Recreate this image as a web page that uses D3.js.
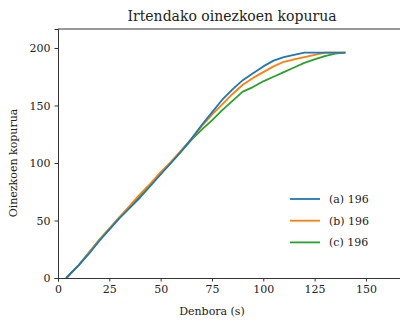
<!DOCTYPE html>
<html>
<head>
<meta charset="utf-8">
<script src="https://cdn.jsdelivr.net/npm/d3@7"></script>
<style>
  body { margin: 0; background: #fff; }
  svg text { font-family: "DejaVu Serif", "Liberation Serif", serif; fill: #222; }
</style>
</head>
<body>
<svg id="chart" width="400" height="321"></svg>
<script>
// Irtendako oinezkoen kopurua: hiru agertokien kurba metatuak
const timesA = [4, 10, 15, 20, 25, 30, 35, 40, 45, 50, 55, 60, 65, 70, 75, 80, 85, 90, 95, 100, 105, 110, 115, 120, 140];
const countsA = [0, 11, 21, 32, 42, 52, 61, 70, 80, 90, 100, 110, 121, 133, 144, 155, 164, 172, 178, 184, 189, 192, 194, 196, 196];

const timesB = [4, 10, 15, 20, 25, 30, 35, 40, 45, 50, 55, 60, 65, 70, 75, 80, 85, 90, 95, 100, 105, 110, 115, 120, 125, 130, 140];
const countsB = [0, 11, 22, 33, 43, 53, 63, 73, 82, 92, 101, 111, 121, 132, 142, 151, 160, 168, 174, 179, 184, 188, 190, 192, 194, 196, 196];

const timesC = [4, 10, 15, 20, 25, 30, 35, 40, 45, 50, 55, 60, 65, 70, 75, 80, 85, 90, 95, 100, 105, 110, 115, 120, 125, 130, 135, 140];
const countsC = [0, 11, 22, 33, 43, 53, 62, 72, 81, 91, 100, 110, 120, 129, 137, 146, 154, 162, 166, 171, 175, 179, 183, 187, 190, 193, 195, 196];

const seriesLabels = ["(a) 196", "(b) 196", "(c) 196"];
const seriesColors = ["#1f77b4", "#ff7f0e", "#2ca02c"];
const xTicks = [0, 25, 50, 75, 100, 125, 150];
const yTicks = [0, 50, 100, 150, 200];

const W = 400, H = 321;
const margin = {left: 58, top: 29, right: -7, bottom: 43};
const innerW = W - margin.left - margin.right;
const innerH = H - margin.top - margin.bottom;

const svg = d3.select("#chart");

const x = d3.scaleLinear().domain([0, 170]).range([0, innerW]);
const y = d3.scaleLinear().domain([0, 216.5]).range([innerH, 0]);

const g = svg.append("g").attr("transform", `translate(${margin.left},${margin.top})`);

const series = [
  timesA.map((t, i) => [t, countsA[i]]),
  timesB.map((t, i) => [t, countsB[i]]),
  timesC.map((t, i) => [t, countsC[i]])
];

const line = d3.line().x(d => x(d[0])).y(d => y(d[1]));

// marrazteko ordena: c, b, a (urdina gainean)
[2, 1, 0].forEach(i => {
  g.append("path")
    .datum(series[i])
    .attr("fill", "none")
    .attr("stroke", seriesColors[i])
    .attr("stroke-width", 1.8)
    .attr("stroke-linejoin", "round")
    .attr("d", line);
});

// ardatzak
const xAxis = g.append("g")
  .attr("transform", `translate(0,${innerH})`)
  .call(d3.axisBottom(x).tickValues(xTicks).tickSize(3.5).tickPadding(4));
const yAxis = g.append("g")
  .call(d3.axisLeft(y).tickValues(yTicks).tickSize(3.5).tickPadding(4));

[xAxis, yAxis].forEach(ax => {
  ax.select(".domain").attr("stroke", "#333").attr("stroke-width", 1);
  ax.selectAll(".tick line").attr("stroke", "#333");
  ax.selectAll(".tick text").style("font-size", "11px").attr("fill", "#222");
});

// goiko ertza
g.append("line")
  .attr("x1", 0).attr("x2", innerW)
  .attr("y1", 0).attr("y2", 0)
  .attr("stroke", "#333");

// legenda
const leg = g.append("g");
seriesLabels.forEach((lab, i) => {
  const ly = 170 + i * 21.7;
  leg.append("line")
    .attr("x1", 232).attr("x2", 262)
    .attr("y1", ly).attr("y2", ly)
    .attr("stroke", seriesColors[i])
    .attr("stroke-width", 1.8);
  leg.append("text")
    .attr("x", 271).attr("y", ly + 4)
    .style("font-size", "11px")
    .text(lab);
});

// izenburua eta etiketak
svg.append("text")
  .attr("x", 232).attr("y", 21)
  .attr("text-anchor", "middle")
  .style("font-size", "14px")
  .text("Irtendako oinezkoen kopurua");

svg.append("text")
  .attr("x", 212).attr("y", 315)
  .attr("text-anchor", "middle")
  .style("font-size", "11px")
  .text("Denbora (s)");

svg.append("text")
  .attr("transform", "translate(17,163) rotate(-90)")
  .attr("text-anchor", "middle")
  .style("font-size", "11px")
  .text("Oinezkoen kopurua");
</script>
</body>
</html>
